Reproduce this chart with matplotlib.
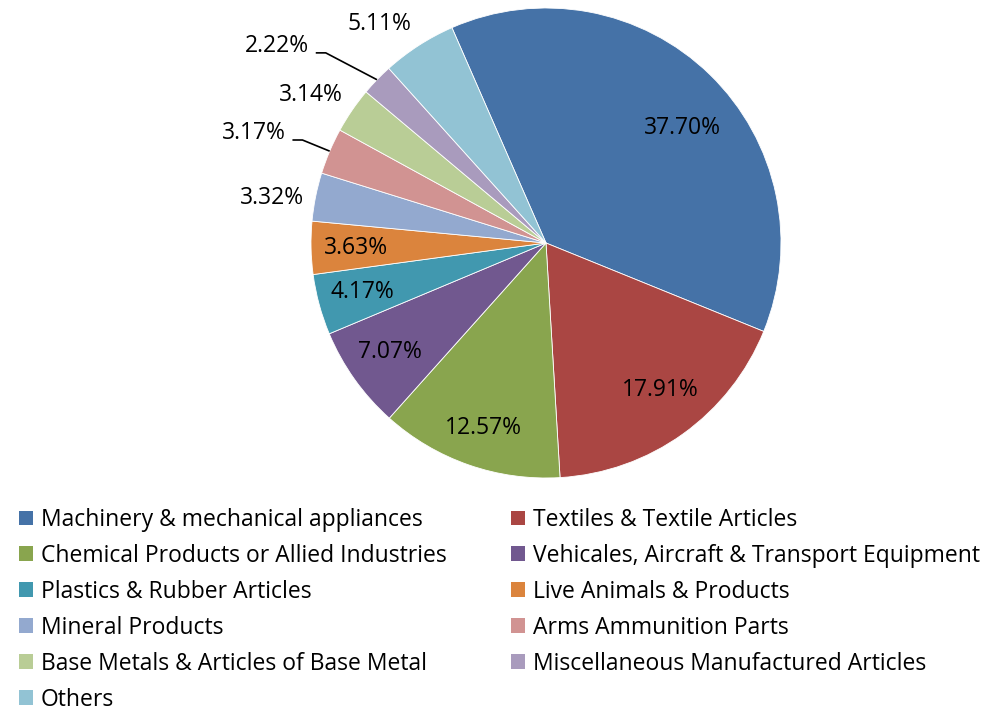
import matplotlib
matplotlib.use("Agg")
import matplotlib.pyplot as plt
import numpy as np

categories = ["Machinery & mechanical appliances", "Textiles & Textile Articles",
              "Chemical Products or Allied Industries", "Vehicales, Aircraft & Transport Equipment",
              "Plastics & Rubber Articles", "Live Animals & Products", "Mineral Products",
              "Arms Ammunition Parts", "Base Metals & Articles of Base Metal",
              "Miscellaneous Manufactured Articles", "Others"]
values = [37.70, 17.91, 12.57, 7.07, 4.17, 3.63, 3.32, 3.17, 3.14, 2.22, 5.11]
labels = ["37.70%", "17.91%", "12.57%", "7.07%", "4.17%", "3.63%", "3.32%",
          "3.17%", "3.14%", "2.22%", "5.11%"]
colors = ["#4572A7", "#AA4643", "#89A54E", "#71588F", "#4198AF", "#DB843D",
          "#93A9CF", "#D19392", "#B9CD96", "#A99BBD", "#92C3D4"]

plt.rcParams['font.family'] = ['Open Sans', 'DejaVu Sans']
FS = 16.5

W, H = 997, 712
fig = plt.figure(figsize=(W / 100, H / 100), dpi=100)
ax = fig.add_axes([0, 0, 1, 1])
cx, cy, R = 546, H - 243, 235
start = 113.6
wedges, _ = ax.pie(values, colors=colors, startangle=start, counterclock=False,
                   center=(cx, cy), radius=R,
                   wedgeprops=dict(edgecolor="white", linewidth=0.6))
ax.set_xlim(0, W)
ax.set_ylim(0, H)
ax.set_aspect('equal')
ax.axis('off')

# label placement (radius factor, angle tweak in degrees)
lab_r = [0.76, 0.79, 0.83, 0.81, 0.81, 0.81, 1.18, 1.33, 1.18, 1.42, 1.17]
lab_da = [-5.5, 2.2, 0.4, -0.4, -0.2, 0.3, 2.0, 2.4, 2.2, 7.8, 4.5]
leader = [False] * 7 + [True, False, True, False]
cum = np.cumsum([0] + values[:-1])
tot = sum(values)
for i, v in enumerate(values):
    mid = start - 360 * (cum[i] + v / 2) / tot
    a = np.deg2rad(mid + lab_da[i])
    tx, ty = cx + lab_r[i] * R * np.cos(a), cy + lab_r[i] * R * np.sin(a)
    ax.text(tx, ty, labels[i], ha='center', va='center', fontsize=FS, color='black')
    if leader[i]:
        am = np.deg2rad(mid)
        ex, ey = cx + R * np.cos(am), cy + R * np.sin(am)
        x0 = tx + 39
        ax.plot([x0, x0 + 10, ex], [ty - 7, ty - 7, ey], color='black', lw=1.2,
                solid_capstyle='butt')

# legend in two columns (row-wise order)
left_idx = list(range(0, 11, 2))
right_idx = list(range(1, 11, 2))
common = dict(frameon=False, fontsize=FS, handlelength=0.61, handleheight=0.61,
              handletextpad=0.35, labelspacing=0.52, borderpad=0, borderaxespad=0,
              loc='upper left')
leg1 = fig.legend([wedges[i] for i in left_idx], [categories[i] for i in left_idx],
                  bbox_to_anchor=(19 / W, 1 - 508 / H), **common)
leg2 = fig.legend([wedges[i] for i in right_idx], [categories[i] for i in right_idx],
                  bbox_to_anchor=(511 / W, 1 - 508 / H), **common)
for leg in (leg1, leg2):
    for h in leg.legend_handles:
        h.set_edgecolor('none')

fig.savefig("out.png", dpi=100)
